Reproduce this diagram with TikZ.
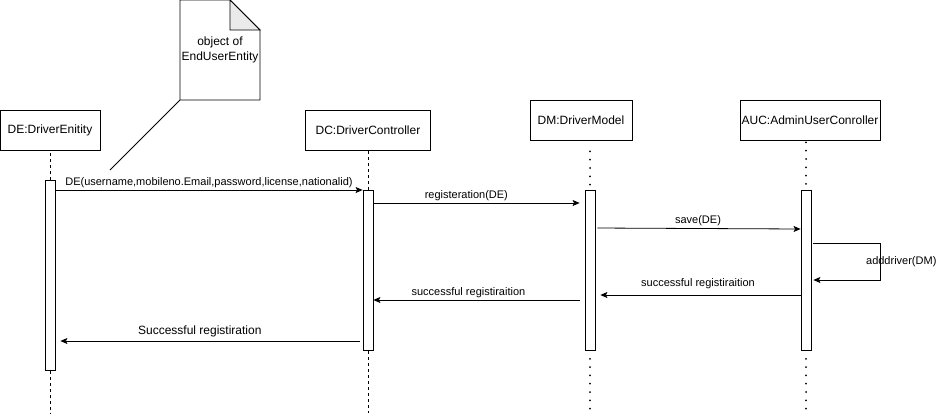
\documentclass[tikz,border=0pt]{standalone}
\usepackage{fontspec}
\setmainfont{Liberation Sans}
\usetikzlibrary{arrows.meta,positioning}
\tikzset{
  >={Stealth[length=7pt,width=6pt,inset=1.5pt]},
  obj/.style={draw,line width=0.8pt,minimum height=40pt,inner sep=0pt,align=center,
    font=\fontsize{12}{14}\selectfont},
  act/.style={draw,line width=0.8pt,fill=white,minimum width=10pt,inner sep=0pt,anchor=north},
  msg/.style={->,line width=0.8pt},
  lbl/.style={font=\fontsize{11}{13}\selectfont,above,inner sep=2pt},
  dashline/.style={line width=0.7pt,dash pattern=on 3pt off 3pt},
  dotline/.style={line width=2pt,line cap=round,dash pattern=on 0pt off 8.3pt},
}
\begin{document}
\begin{tikzpicture}[x=1pt,y=-1pt]
  \useasboundingbox (0,0) rectangle (946,413);
  \coordinate (bottom) at (0,413);
  % note
  \draw[line width=0.8pt] (180,0) -- (230,0) -- (260,30) -- (260,100) -- (180,100) -- cycle;
  \filldraw[line width=0.8pt,fill=black!8] (230,0) -- (230,30) -- (260,30) -- cycle;
  \node[minimum width=80pt,minimum height=100pt,inner sep=0pt,align=center,
    font=\fontsize{12}{15}\selectfont] (note) at (220,50) {\raisebox{-2pt}{object of}\\\raisebox{-2pt}{EndUserEntity}};
  \coordinate (notetip) at (110,170);
  \draw[line width=0.8pt] (note.south west) -- (notetip);
  % objects
  \node[obj,minimum width=100pt] (de) at (50,130) {DE:DriverEnitity};
  \node[obj,minimum width=125pt] (dc) at (368,130) {DC:DriverController};
  \node[obj,minimum width=102pt] (dm) at (581,120) {DM:DriverModel};
  \node[obj,minimum width=140pt] (auc) at (810,120) {AUC:AdminUserConroller};
  % activations
  \node[act,minimum height=190pt] (a1) at (50,180) {};
  \node[act,minimum height=160pt] (a2) at (368,190) {};
  \node[act,minimum height=160pt] (a3) at (590,190) {};
  \node[act,minimum height=160pt] (a4) at (806,190) {};
  % lifelines
  \draw[dashline] (a1.north) -- (a1.north |- de.south) (a1.south) -- (a1.south |- bottom);
  \draw[dashline] (a2.north) -- (a2.north |- dc.south) (a2.south) -- (a2.south |- bottom);
  \draw[dotline,shorten <=11pt] (a3.north |- dm.south) -- (a3.north);
  \draw[dotline,shorten <=8pt] (a3.south) -- (a3.south |- bottom);
  \draw[dotline,shorten <=2pt] (a4.north |- auc.south) -- (a4.north);
  \draw[dotline,shorten <=8pt] (a4.south) -- (a4.south |- bottom);
  % messages
  \draw[msg] ([yshift=-10pt]a1.north east) -- node[lbl] {DE(username,mobileno.Email,password,license,nationalid)} (a2.north west);
  \draw[msg,shorten >=5pt] ([yshift=-13pt]a2.north east) -- node[lbl,pos=0.44] {registeration(DE)} ([yshift=-13pt]a3.north west);
  \draw[msg,shorten <=2pt] ([yshift=-38pt]a3.north east) -- node[lbl] {save(DE)} ([yshift=-39pt]a4.north west);
  \draw[msg,shorten <=2pt,shorten >=2pt] ([yshift=-53pt]a4.north east) -- ++(69,0) |- node[pos=0.25,right=-18pt,font=\fontsize{11}{13}\selectfont] {adddriver(DM)} ([yshift=-90pt]a4.north east);
  \draw[msg,shorten >=5pt] ([yshift=-105pt]a4.north west) -- node[lbl,pos=0.5,inner sep=6pt] {successful registiraition} ([yshift=-105pt]a3.north east);
  \draw[msg,shorten <=5pt] ([yshift=-110pt]a3.north west) -- node[lbl,pos=0.55] {successful registiraition} ([yshift=-110pt]a2.north east);
  \draw[msg,shorten <=3pt,shorten >=5pt] ([yshift=-151pt]a2.north west) -- node[lbl,pos=0.53,font=\fontsize{12}{14}\selectfont,inner sep=4pt] {Successful registiration} ([yshift=-161pt]a1.north east);
\end{tikzpicture}
\end{document}
